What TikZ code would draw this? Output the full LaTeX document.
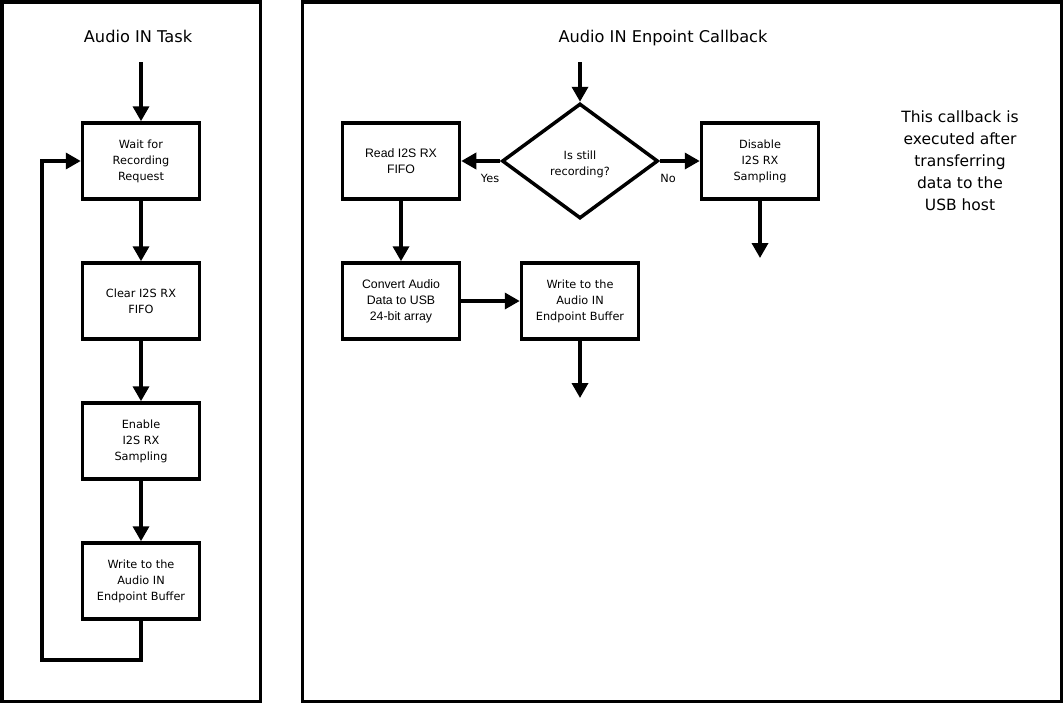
\documentclass[tikz,border=0pt]{standalone}
\usepackage{fontspec}
\setmainfont{DejaVu Sans}
\newfontfamily\arialfont{Liberation Sans}
\usetikzlibrary{arrows.meta,shapes.geometric}
\tikzset{
  panel/.style={draw=black,line width=3.5pt},
  stepbox/.style={draw=black,line width=3.5pt,minimum width=117pt,minimum height=76pt,inner sep=0pt,align=center,font=\fontsize{11.3}{16}\selectfont},
  abox/.style={stepbox,font=\arialfont\fontsize{12.3}{16}\selectfont},
  decision/.style={draw=black,line width=3.5pt,diamond,minimum width=156pt,minimum height=115pt,inner sep=0pt,align=center,font=\fontsize{11.3}{16}\selectfont},
  flow/.style={line width=3.5pt,-{Triangle[width=16pt,length=15pt]}},
  titletext/.style={font=\fontsize{16.2}{20}\selectfont,anchor=base,inner sep=0pt},
  lbl/.style={font=\fontsize{11.3}{14}\selectfont,inner sep=0pt}
}
\begin{document}
\begin{tikzpicture}[x=1pt,y=-1pt]
\useasboundingbox (0,0) rectangle (1064,704);
\fill[white] (0,0) rectangle (1064,704);
% panels
\draw[panel] (1.75,1.75) rectangle (260.5,701.5);
\draw[panel] (302.5,1.75) rectangle (1061.5,701.5);
% titles
\node[titletext] (t1) at (138,42) {Audio IN Task};
\node[titletext] (t2) at (663,42) {Audio IN Enpoint Callback};
% left column
\coordinate (s1) at (141,62);
\node[stepbox] (w1) at (141,161) {Wait for\\Recording\\Request};
\node[stepbox] (c1) at (141,301) {Clear I2S RX\\FIFO};
\node[stepbox] (e1) at (141,441) {Enable\\I2S RX\\Sampling};
\node[stepbox] (b1) at (141,581) {Write to the\\Audio IN\\Endpoint Buffer};
\coordinate (lp1) at (141,660);
\coordinate (lp2) at (42,660);
\coordinate (lp3) at (42,161);
\draw[flow] (s1) -- (w1.north);
\draw[flow] (w1) -- (c1);
\draw[flow] (c1) -- (e1);
\draw[flow] (e1) -- (b1);
\draw[flow] (b1.south) -- (lp1) -- (lp2) -- (lp3) -- (w1.west);
% right panel
\coordinate (s2) at (580,62);
\node[decision] (d) at (580,161) {};
\node[align=center,font=\fontsize{11.3}{16}\selectfont,inner sep=0pt] (dt) at (580,164) {Is still\\recording?};
\node[abox] (r) at (401,161) {Read I2S RX\\FIFO};
\node[stepbox] (dis) at (760,161) {Disable\\I2S RX\\Sampling};
\node[abox] (cv) at (401,301) {Convert Audio\\Data to USB\\24-bit array};
\node[stepbox] (wr) at (580,301) {Write to the\\Audio IN\\Endpoint Buffer};
\coordinate (e2) at (760,258);
\coordinate (e3) at (580,398);
\draw[flow] (s2) -- (d.north);
\draw[flow] (d.west) -- (r.east);
\draw[flow] (d.east) -- (dis.west);
\draw[flow] (dis.south) -- (e2);
\draw[flow] (r.south) -- (cv.north);
\draw[flow] (cv.east) -- (wr.west);
\draw[flow] (wr.south) -- (e3);
\node[lbl] (yes) at (490,178) {Yes};
\node[lbl] (no) at (668,178) {No};
% note
\node[align=center,font=\fontsize{15.5}{22}\selectfont] (note) at (960,161) {This callback is\\executed after\\transferring\\data to the\\USB host};
\end{tikzpicture}
\end{document}
